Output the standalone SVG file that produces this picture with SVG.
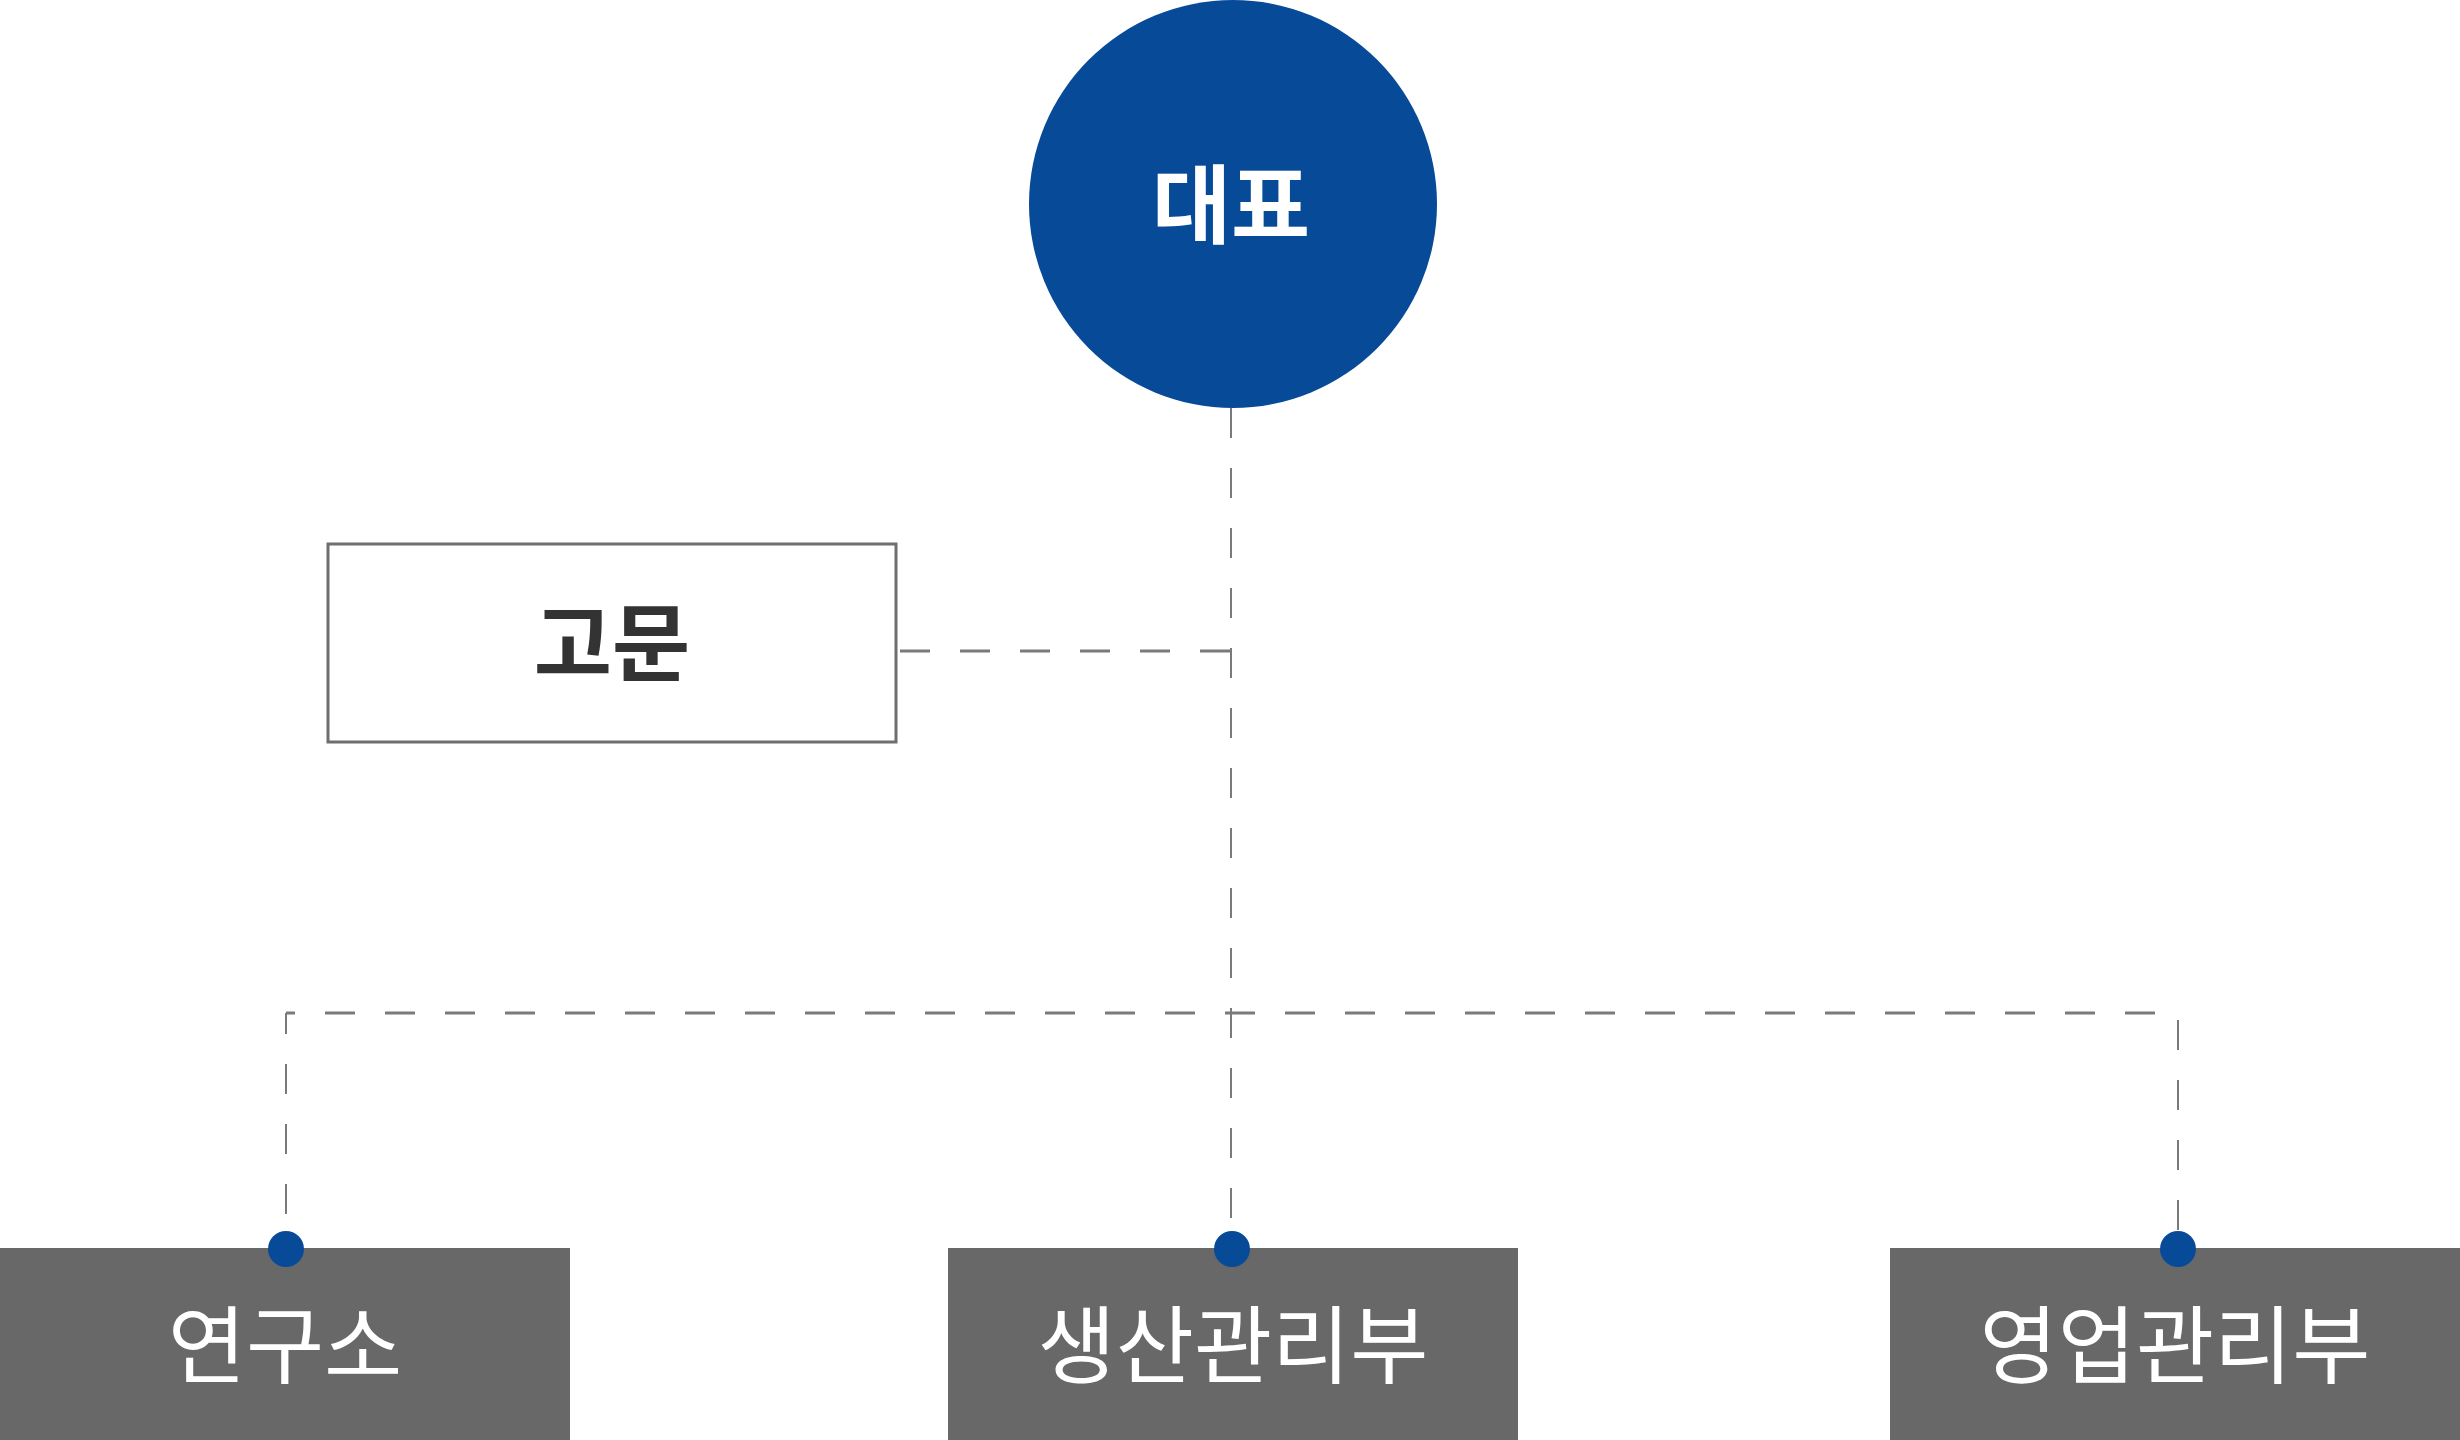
<svg xmlns="http://www.w3.org/2000/svg" width="2460" height="1440" viewBox="0 0 2460 1440">
<style>
.dash{fill:none;stroke:#7a7a7a;stroke-dasharray:30 30}
.h{stroke-width:3}
.v{stroke-width:2}
.dept{fill:#686868}
.dot{fill:#074a98}
.lbl{font-family:"Noto Sans CJK KR","Noto Sans",sans-serif;text-anchor:middle}
.w{fill:#ffffff;font-size:85px;font-weight:400}
</style>
<rect width="2460" height="1440" fill="#ffffff"/>
<g id="connectors">
<path class="dash v" d="M1231,408 V1249"/>
<path class="dash h" d="M900,651 H1231"/>
<path class="dash v" d="M286,1274 V1013"/>
<path class="dash h" d="M286,1013 H2178" stroke-dashoffset="21"/>
<path class="dash v" d="M2178,1013 V1249" stroke-dashoffset="53"/>
</g>
<g id="ceo">
<circle cx="1233" cy="204" r="204" fill="#074a98"/>
<text class="lbl" x="1231" y="237" fill="#ffffff" font-size="86" font-weight="700">대표</text>
</g>
<g id="advisor">
<rect x="328" y="544" width="568" height="198" fill="#ffffff" stroke="#6e6e6e" stroke-width="3"/>
<text class="lbl" x="612" y="675" fill="#333333" font-size="85" font-weight="700">고문</text>
</g>
<g id="lab">
<rect class="dept" x="0" y="1248" width="570" height="192"/>
<circle class="dot" cx="286" cy="1249" r="18"/>
<text class="lbl w" x="285" y="1377">연구소</text>
</g>
<g id="production">
<rect class="dept" x="948" y="1248" width="570" height="192"/>
<circle class="dot" cx="1232" cy="1249" r="18"/>
<text class="lbl w" x="1233" y="1377">생산관리부</text>
</g>
<g id="sales">
<rect class="dept" x="1890" y="1248" width="570" height="192"/>
<circle class="dot" cx="2178" cy="1249" r="18"/>
<text class="lbl w" x="2175" y="1377">영업관리부</text>
</g>
</svg>
